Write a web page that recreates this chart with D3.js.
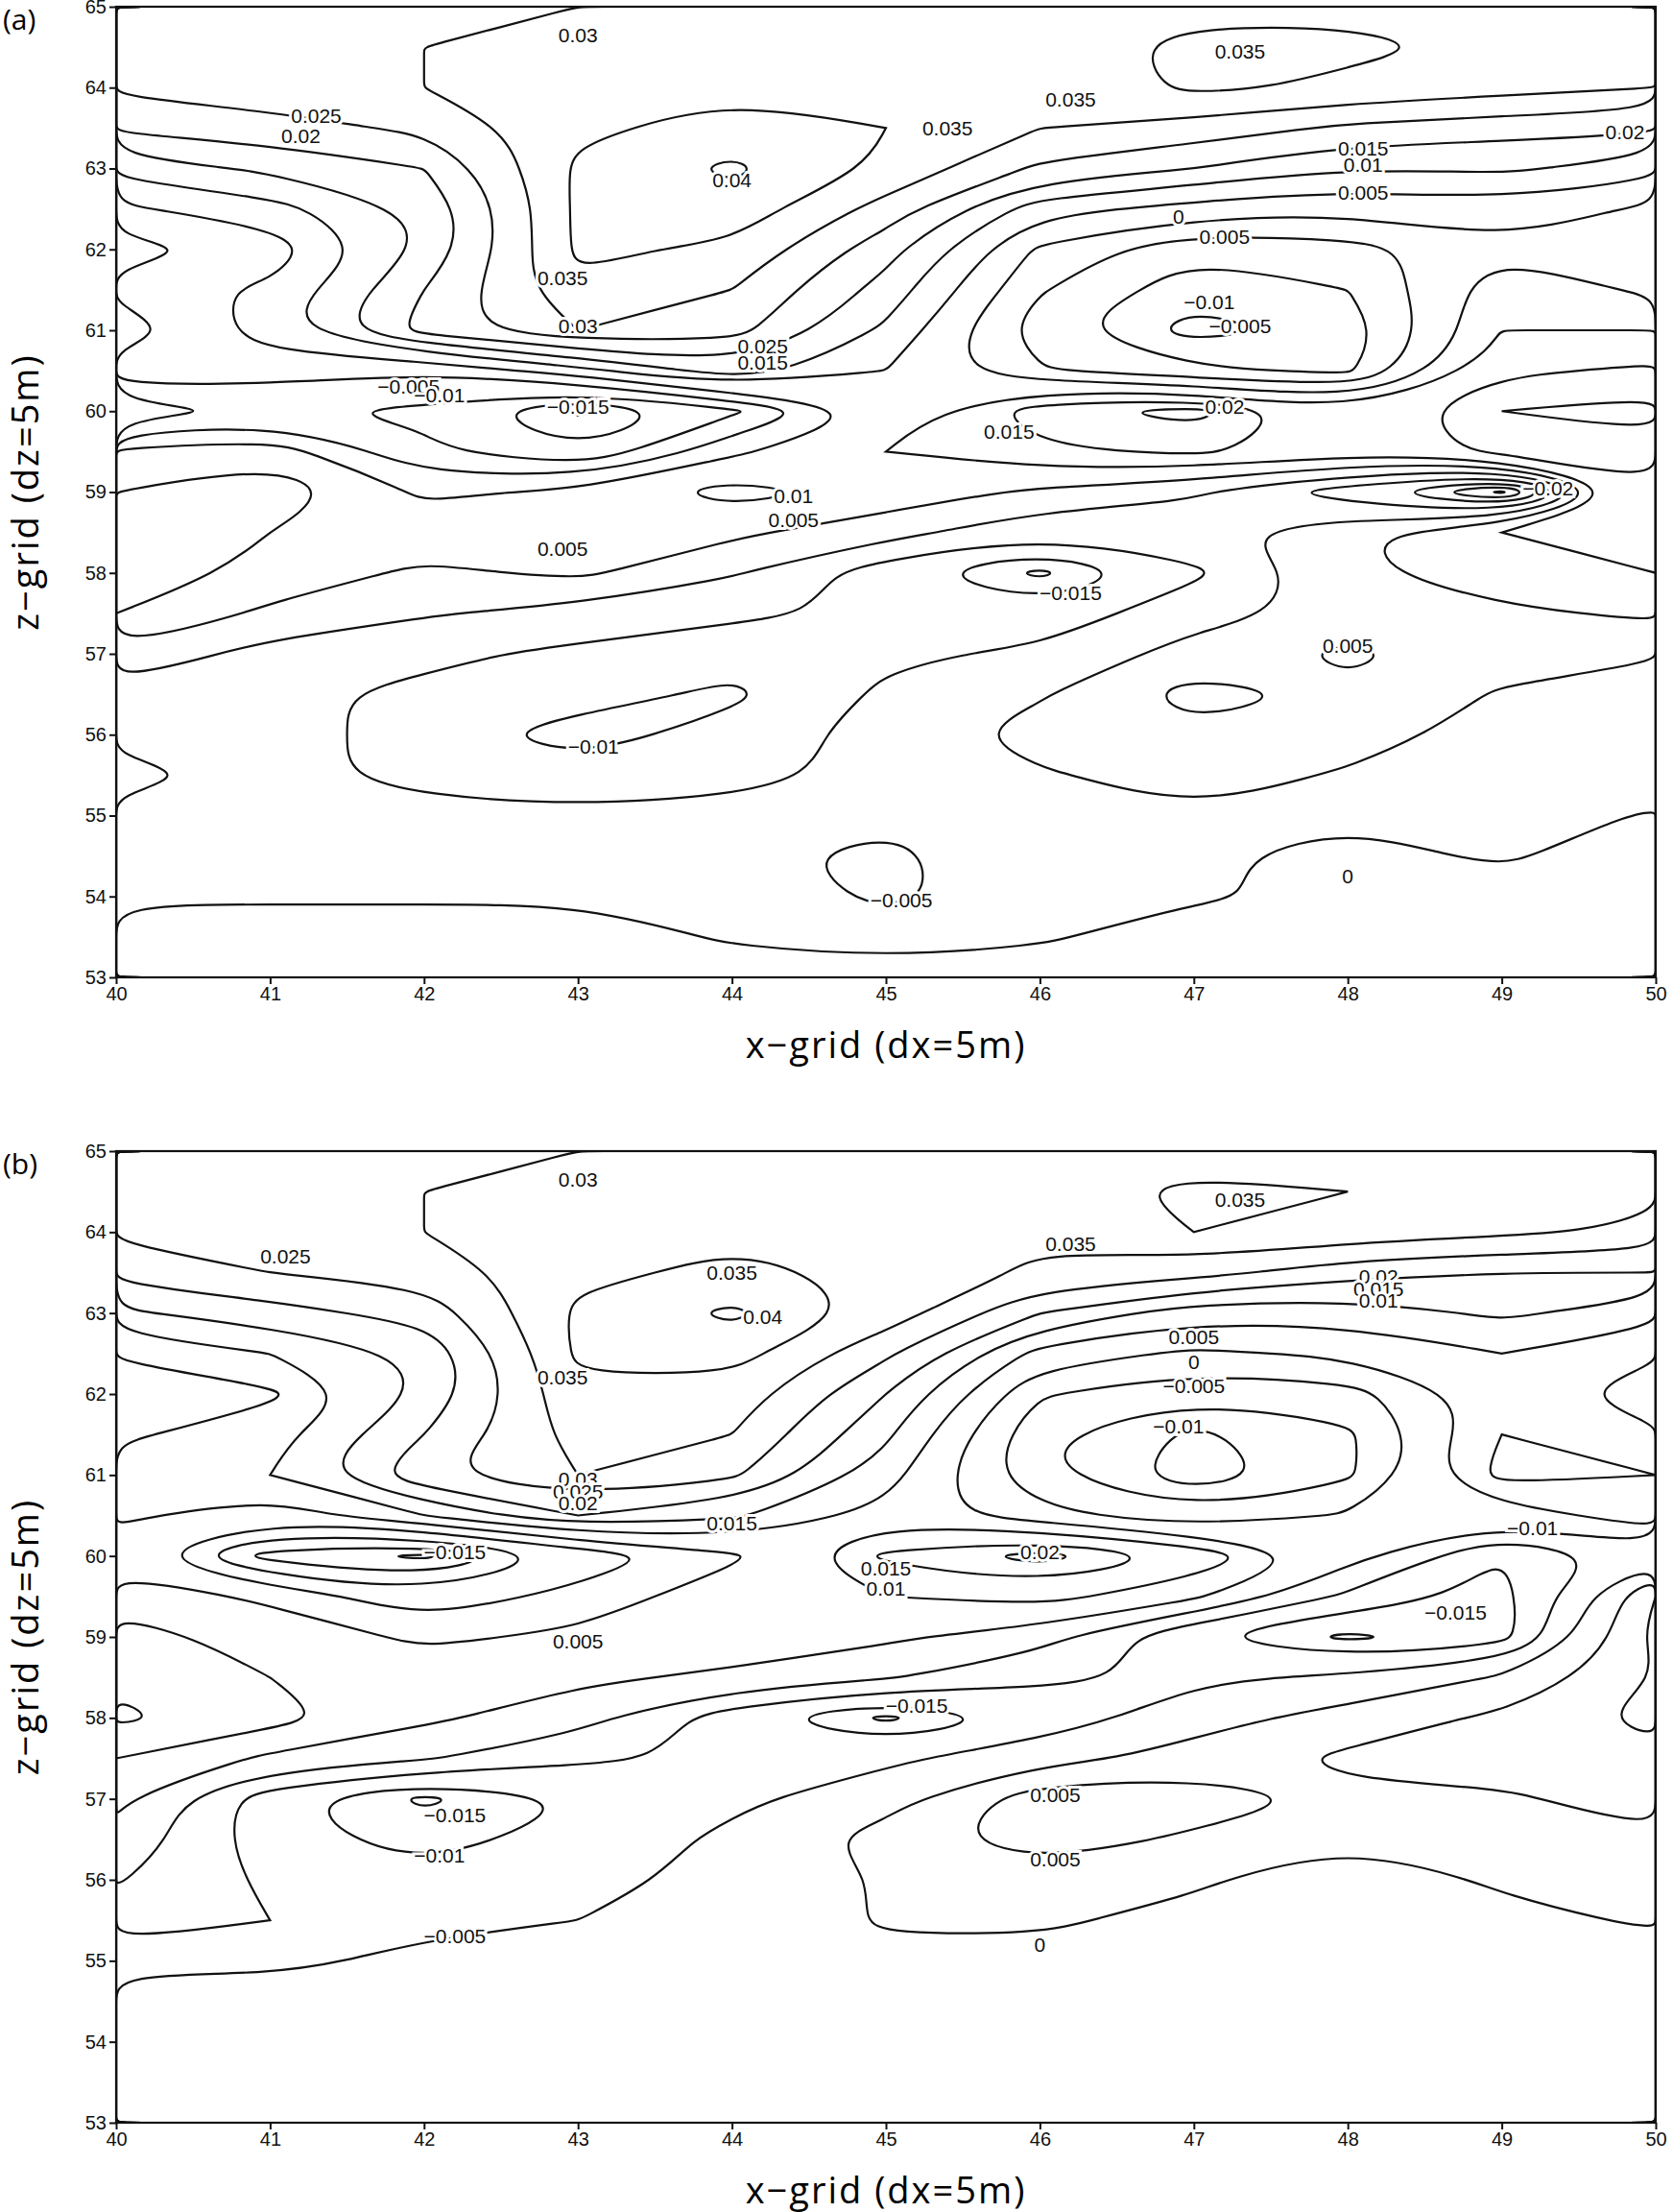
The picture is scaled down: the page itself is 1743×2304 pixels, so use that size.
<!DOCTYPE html>
<html>
<head>
<meta charset="utf-8">
<script src="https://cdn.jsdelivr.net/npm/d3@7"></script>
<style>
  body { margin: 0; background: #fff; }
  text { font-family: "Liberation Sans", Arial, sans-serif; }
</style>
</head>
<body>
<script>
var width = 1743,
  height = 2304;

// grid columns x = 40..50 (step 1), rows z = 65..53 (step 0.5)
var xGrid = [40, 41, 42, 43, 44, 45, 46, 47, 48, 49, 50];
var zGrid = [65, 64.5, 64, 63.5, 63, 62.5, 62, 61.5, 61, 60.5, 60, 59.5, 59,
  58.5, 58, 57.5, 57, 56.5, 56, 55.5, 55, 54.5, 54, 53.5, 53];
var levels = [-0.02, -0.015, -0.01, -0.005, 0, 0.005, 0.01, 0.015, 0.02,
  0.025, 0.03, 0.035, 0.04];
var xTicks = [40, 41, 42, 43, 44, 45, 46, 47, 48, 49, 50];
var zTicks = [53, 54, 55, 56, 57, 58, 59, 60, 61, 62, 63, 64, 65];

var fieldA = [
  [.028, .028, .029, .030, .030, .031, .032, .034, .034, .033, .032],
  [.030, .029, .030, .031, .031, .031, .033, .036, .036, .034, .032],
  [.026, .028, .030, .033, .034, .034, .031, .036, .034, .032, .030],
  [.021, .023, .026, .034, .037, .035, .030, .028, .024, .022, .021],
  [.012, .016, .020, .036, .041, .034, .024, .020, .015, .016, .012],
  [.004, .008, .016, .036, .038, .028, .012, .008, .006, .008, .004],
  [-.002, .002, .016, .036, .034, .022, .004, -.004, -.002, .004, .001],
  [.002, .006, .020, .034, .030, .018, .0005, -.008, -.005, .008, .004],
  [-.004, .008, .022, .030, .027, .014, -.003, -.012, -.008, .010, .010],
  [.004, .002, .0005, .008, .018, .010, .0005, -.004, -.006, .014, .016],
  [-.008, -.004, -.006, -.016, -.006, .006, .018, .022, .010, .020, .022],
  [.006, .008, -.004, -.010, .004, .010, .014, .016, .012, .016, .018],
  [.010, .014, .004, .006, .012, .008, .004, .0005, -.008, -.021, .014],
  [.012, .010, .008, .006, .006, .002, -.004, -.002, .004, .010, .012],
  [.014, .008, .004, .006, .0005, -.008, -.016, -.006, .004, .008, .010],
  [.010, .004, .0005, -.002, -.004, -.006, -.008, -.002, .002, .004, .006],
  [.004, -.002, -.004, -.006, -.008, -.006, -.004, .002, .006, .002, .0005],
  [-.002, -.004, -.006, -.008, -.011, -.004, -.0005, .007, .004, -.0005, -.002],
  [-.004, -.002, -.008, -.012, -.008, -.003, .002, .004, .002, -.002, -.004],
  [-.006, -.004, -.006, -.008, -.006, -.004, -.0005, .002, -.0005, -.002, -.004],
  [-.004, -.004, -.004, -.004, -.004, -.004, -.002, -.0005, -.0005, -.002, .0005],
  [-.002, -.002, -.002, -.002, -.004, -.006, -.002, -.0005, .001, -.0005, .002],
  [-.0005, -.0005, -.0005, -.0005, -.002, -.006, -.002, -.0005, .001, .002, .002],
  [.002, .002, .002, .002, -.0005, -.002, -.0005, .002, .002, .002, .002],
  [.002, .002, .002, .002, .002, .002, .002, .002, .002, .002, .002]
];

var fieldB = [
  [.028, .028, .029, .030, .030, .030, .031, .033, .033, .032, .030],
  [.030, .029, .030, .031, .031, .031, .033, .036, .035, .033, .031],
  [.026, .027, .030, .033, .034, .033, .031, .035, .033, .031, .029],
  [.022, .025, .027, .034, .036, .034, .029, .027, .022, .020, .020],
  [.014, .018, .022, .036, .041, .033, .020, .012, .012, .016, .012],
  [.006, .010, .016, .036, .037, .026, .008, .004, .006, .010, .006],
  [.0005, .004, .016, .034, .033, .020, .0005, -.004, -.002, .008, .002],
  [.004, .008, .020, .032, .030, .016, -.004, -.011, -.006, .010, .006],
  [.008, .010, .024, .030, .026, .012, -.004, -.013, -.006, .012, .010],
  [.006, .002, .010, .020, .016, .008, .002, -.004, .0005, .002, .008],
  [.002, -.012, -.016, -.004, .004, .016, .022, .014, .002, -.010, -.002],
  [.008, .004, -.004, .002, .008, .010, .012, .006, -.006, -.012, .010],
  [.012, .008, .004, .006, .008, .006, .002, -.010, -.016, -.012, .012],
  [.014, .010, .008, .006, .004, .0005, -.004, -.006, -.004, .0005, .010],
  [.016, .012, .006, .002, -.008, -.016, -.008, -.002, .002, .006, .012],
  [.010, .004, .0005, -.004, -.006, -.006, -.002, .002, .006, .008, .008],
  [.006, -.008, -.016, -.010, -.006, -.002, .008, .008, .004, .004, .008],
  [.004, -.008, -.012, -.008, -.004, .002, .008, .004, .0005, .002, .004],
  [.0005, -.006, -.008, -.006, -.004, .0005, .002, .0005, -.002, .0005, .002],
  [-.004, -.005, -.006, -.005, -.003, .0005, .0005, -.001, -.002, -.001, .0005],
  [-.006, -.006, -.004, -.003, -.002, -.001, -.001, -.002, -.002, -.002, -.002],
  [-.003, -.003, -.003, -.003, -.003, -.003, -.003, -.003, -.003, -.003, -.003],
  [-.003, -.003, -.003, -.003, -.003, -.003, -.003, -.003, -.003, -.003, -.003],
  [-.003, -.003, -.003, -.003, -.003, -.003, -.003, -.003, -.003, -.003, -.003],
  [-.003, -.003, -.003, -.003, -.003, -.003, -.003, -.003, -.003, -.003, -.003]
];

// contour labels: [x, z, text]
var labelsA = [
  [43, 64.65, "0.03"], [47.3, 64.45, "0.035"], [46.2, 63.85, "0.035"],
  [41.3, 63.65, "0.025"], [41.2, 63.4, "0.02"], [45.4, 63.5, "0.035"],
  [44, 62.85, "0.04"], [42.9, 61.65, "0.035"], [43, 61], [48.1, 63.25, "0.015"],
  [48.1, 63.05, "0.01"], [48.1, 62.7, "0.005"], [49.8, 63.45, "0.02"],
  [46.9, 62.4, "0"], [47.2, 62.15, "0.005"], [47.1, 61.35, "−0.01"],
  [47.3, 61.05, "−0.005"], [44.2, 60.8, "0.025"], [44.2, 60.6, "0.015"],
  [41.9, 60.3, "−0.005"], [42.1, 60.2, "−0.01"], [43, 60.05, "−0.015"],
  [45.8, 59.75, "0.015"], [47.2, 60.05, "0.02"], [44.4, 58.95, "0.01"],
  [44.4, 58.65, "0.005"], [42.9, 58.3, "0.005"], [46.2, 57.75, "−0.015"],
  [48, 57.1, "0.005"], [43.1, 55.85, "−0.01"], [45.1, 53.95, "−0.005"],
  [48, 54.25, "0"], [49.3, 59.05, "−0.02"], [43, 61.05, "0.03"]
];
var labelsB = [
  [43, 64.65, "0.03"], [47.3, 64.4, "0.035"], [46.2, 63.85, "0.035"],
  [41.1, 63.7, "0.025"], [44, 63.5, "0.035"], [44.2, 62.95, "0.04"],
  [42.9, 62.2, "0.035"], [48.2, 63.45, "0.02"], [48.2, 63.3, "0.015"],
  [48.2, 63.15, "0.01"], [47, 62.7, "0.005"], [47, 62.4, "0"],
  [47, 62.1, "−0.005"], [46.9, 61.6, "−0.01"], [43, 60.95, "0.03"],
  [43, 60.8, "0.025"], [43, 60.65, "0.02"], [44, 60.4, "0.015"],
  [42.2, 60.05, "−0.015"], [46, 60.05, "0.02"], [45, 59.85, "0.015"],
  [45, 59.6, "0.01"], [49.2, 60.35, "−0.01"], [48.7, 59.3, "−0.015"],
  [43, 58.95, "0.005"], [45.2, 58.15, "−0.015"], [46.1, 57.05, "0.005"],
  [46.1, 56.25, "0.005"], [42.2, 56.8, "−0.015"], [42.1, 56.3, "−0.01"],
  [42.2, 55.3, "−0.005"], [46, 55.2, "0"]
];

var left = 121, right = 1725;
var svg = d3.select("body").append("svg")
  .attr("width", width).attr("height", height);

function panel(field, labels, top, bottom, tag, id) {
  var x = d3.scaleLinear().domain([40, 50]).range([left, right]);
  var y = d3.scaleLinear().domain([53, 65]).range([bottom, top]);
  var g = svg.append("g");

  g.append("clipPath").attr("id", id)
    .append("rect").attr("x", left).attr("y", top)
    .attr("width", right - left).attr("height", bottom - top);

  var n = xGrid.length, m = zGrid.length;
  var values = [];
  field.forEach(function (row) { row.forEach(function (v) { values.push(v); }); });

  var contours = d3.contours().size([n, m]).thresholds(levels)(values);

  // grid coordinate -> data coordinate (sample i sits at i + 0.5)
  function gx(c) { return x(40 + Math.max(0, Math.min(n - 1, c - 0.5))); }
  function gy(c) { return y(65 - 0.5 * Math.max(0, Math.min(m - 1, c - 0.5))); }

  var line = d3.line()
    .x(function (p) { return gx(p[0]); })
    .y(function (p) { return gy(p[1]); })
    .curve(d3.curveBasisClosed);

  var lines = g.append("g").attr("clip-path", "url(#" + id + ")");
  contours.forEach(function (c) {
    c.coordinates.forEach(function (poly) {
      poly.forEach(function (ring) {
        lines.append("path").attr("d", line(ring.slice(0, -1)))
          .attr("fill", "none").attr("stroke", "#111")
          .attr("stroke-width", 2.2);
      });
    });
  });

  g.selectAll(".lab").data(labels.filter(function (d) { return d.length === 3; }))
    .enter().append("text")
    .attr("x", function (d) { return x(d[0]); })
    .attr("y", function (d) { return y(d[1]); })
    .attr("dy", "0.35em")
    .attr("text-anchor", "middle")
    .attr("font-size", 21)
    .attr("stroke", "#fff").attr("stroke-width", 6)
    .attr("paint-order", "stroke")
    .attr("fill", "#111")
    .text(function (d) { return d[2]; });

  g.append("rect").attr("x", left).attr("y", top)
    .attr("width", right - left).attr("height", bottom - top)
    .attr("fill", "none").attr("stroke", "#111").attr("stroke-width", 2.2);

  var xAxis = d3.axisBottom(x).tickValues(xTicks).tickSize(7).tickSizeOuter(0);
  var gxA = g.append("g").attr("transform", "translate(0," + bottom + ")").call(xAxis);
  var yAxis = d3.axisLeft(y).tickValues(zTicks).tickSize(7).tickSizeOuter(0);
  var gyA = g.append("g").attr("transform", "translate(" + left + ",0)").call(yAxis);
  [gxA, gyA].forEach(function (a) {
    a.select(".domain").remove();
    a.selectAll("line").attr("stroke", "#111").attr("stroke-width", 2);
    a.selectAll("text").attr("font-size", 20).attr("fill", "#111")
      .style("font-family", "'Liberation Sans', Arial, sans-serif");
  });

  g.append("text")
    .attr("x", (left + right) / 2).attr("y", bottom + 84)
    .attr("text-anchor", "middle")
    .attr("font-size", 38).style("font-family", "'Open Sans', sans-serif")
    .attr("letter-spacing", 2)
    .text("x−grid  (dx=5m)");

  g.append("text")
    .attr("transform", "translate(40," + (top + bottom) / 2 + ") rotate(-90)")
    .attr("text-anchor", "middle")
    .attr("font-size", 38).style("font-family", "'Open Sans', sans-serif")
    .attr("letter-spacing", 2)
    .text("z−grid  (dz=5m)");

  g.append("text").attr("x", 3).attr("y", top + 24)
    .attr("font-size", 30).style("font-family", "'Open Sans', sans-serif")
    .text(tag);
}

panel(fieldA, labelsA, 7, 1018, "(a)", "clipA");
panel(fieldB, labelsB, 1199, 2211, "(b)", "clipB");
</script>
</body>
</html>
